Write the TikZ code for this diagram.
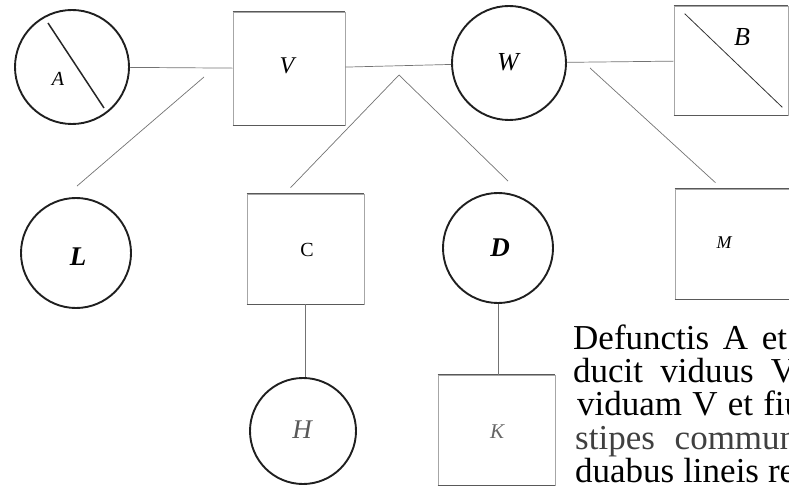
\documentclass[tikz,border=0pt]{standalone}
\usepackage{fontspec}
\setmainfont{Liberation Serif}
\usetikzlibrary{calc}
\begin{document}
\begin{tikzpicture}[x=1pt,y=-1pt,
  person/.style={circle,draw=black!88,line width=1.9pt,inner sep=0pt},
  man/.style={rectangle,draw=black!35,line width=0.6pt,inner sep=0pt},
  rim/.style={draw=black!65,line width=0.8pt},
  link/.style={draw=black!55,line width=0.7pt},
  tag/.style={inner sep=0pt,font=\itshape\fontsize{20}{20}\selectfont},
  prose/.style={anchor=base west,inner sep=0pt,font=\fontsize{35}{33}\selectfont}]
\useasboundingbox (0,0) rectangle (789,486);
\clip (0,0) rectangle (789,486);

% women (circles)
\node[person,minimum size=114pt] (A) at (72,67) {};
\node[person,minimum size=114pt] (W) at (509,63) {};
\node[person,minimum size=110pt] (L) at (76,253) {};
\node[person,minimum size=110pt] (D) at (498,248) {};
\node[person,minimum size=106pt] (H) at (303,431) {};

% men (squares)
\node[man,minimum width=112pt,minimum height=113pt] (V) at (289,68.5) {};
\node[man,minimum width=114pt,minimum height=109pt] (B) at (731,60.5) {};
\node[man,minimum width=117pt,minimum height=110pt] (C) at (305.5,249) {};
\node[man,minimum width=117pt,minimum height=110pt] (M) at (733.5,244) {};
\node[man,minimum width=117pt,minimum height=110pt] (K) at (496.5,430) {};
\foreach \b in {V,B,C,M,K}{
  \draw[rim] (\b.north west) -- (\b.north east);
  \draw[rim] (\b.south west) -- (\b.south east);
}

% the deceased are struck through
\draw[black!85,line width=1.5pt] ($(A.center)+(-24,-44)$) -- ($(A.center)+(32,41)$);
\draw[black!80,line width=0.8pt] ($(B.north west)+(11,8)$) -- ($(B.south east)+(-6,-8)$);

% marriages
\draw[link] (A) -- (V);
\draw[link] (V) -- (W);
\draw[link] (W) -- (B);

% descent
\coordinate (avknot) at (204,77);
\coordinate (vwknot) at (399,75);
\coordinate (wbknot) at (590,68);
\draw[link] (avknot) -- ($(L.north)+(1,-11)$);
\draw[link] (vwknot) -- ($(C.north)+(-15,-6)$);
\draw[link] (vwknot) -- ($(D.north)+(10,-11)$);
\draw[link] (wbknot) -- ($(M.north)+(-18,-6)$);
\draw[link] (C.south) -- (C.south |- H.north);
\draw[link] (D.south) -- (D.south |- K.north);

% names
\node[tag] (A-t) at (58,79) {A};
\node[tag,font=\itshape\fontsize{24}{24}\selectfont] (V-t) at (287,66) {V};
\node[tag,font=\itshape\fontsize{26}{26}\selectfont] (W-t) at (508,62) {W};
\node[tag,font=\itshape\fontsize{26}{26}\selectfont] (B-t) at (742,37) {B};
\node[tag,font=\itshape\fontsize{18}{18}\selectfont] (M-t) at (724,243) {M};
\node[tag,font=\bfseries\itshape\fontsize{27}{27}\selectfont] (L-t) at (78,257) {L};
\node[tag,font=\upshape\fontsize{20}{20}\selectfont] (C-t) at (307,250) {C};
\node[tag,font=\bfseries\itshape\fontsize{27}{27}\selectfont] (D-t) at (500,248) {D};
\node[tag,text=black!65,font=\itshape\fontsize{27}{27}\selectfont] (H-t) at (302,430) {H};
\node[tag,text=black!60,font=\itshape\fontsize{21}{21}\selectfont] (K-t) at (497,432) {K};

% explanatory text
\node[prose] (p1) at (573,349) {\makebox[214pt][s]{Defunctis A et}};
\node[prose] (p2) at (573,382) {\makebox[223pt][s]{ducit viduus V}};
\node[prose] (p3) at (577,415) {\makebox[225pt][s]{viduam V et fiu}};
\node[prose,text=black!75] (p4) at (575,449) {\makebox[222pt][s]{stipes commun}};
\node[prose] (p5) at (575,482) {\makebox[220pt][s]{duabus lineis re}};
\end{tikzpicture}
\end{document}
